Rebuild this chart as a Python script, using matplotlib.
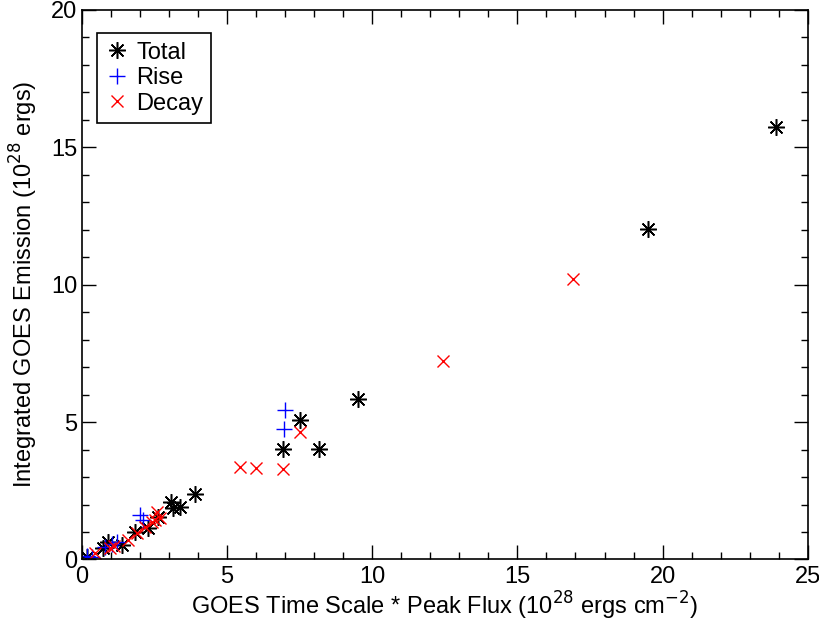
import matplotlib
matplotlib.use("Agg")
import matplotlib.pyplot as plt
from matplotlib.ticker import MultipleLocator
from matplotlib.lines import Line2D

plt.rcParams['font.family'] = ['Liberation Sans', 'DejaVu Sans']

total_x = [23.9, 19.5, 9.5, 7.52, 6.94, 8.15, 3.89, 3.05, 3.37, 3.15, 2.63, 2.28, 1.83, 1.37, 0.91, 0.73, 0.16]
total_y = [15.73, 12.02, 5.85, 5.07, 4.03, 4.03, 2.38, 2.08, 1.9, 1.86, 1.56, 1.13, 1.01, 0.53, 0.65, 0.41, 0.1]

rise_x = [6.99, 6.96, 2.0, 2.11, 1.19, 1.02, 0.79, 0.16, 0.33]
rise_y = [5.45, 4.74, 1.62, 1.44, 0.62, 0.55, 0.45, 0.12, 0.08]

decay_x = [16.9, 12.43, 7.51, 5.46, 5.99, 6.94, 2.57, 2.69, 2.4, 2.17, 1.88, 1.6, 0.96, 0.45, 2.51, 1.1]
decay_y = [10.2, 7.22, 4.65, 3.35, 3.33, 3.28, 1.74, 1.5, 1.37, 1.19, 0.95, 0.71, 0.41, 0.22, 1.44, 0.5]

FS = 17

fig = plt.figure(figsize=(8.2, 6.22), dpi=100)
ax = fig.add_axes([0.1, 0.1005, 0.885, 0.884])

asterisk = (8, 2, 0)
ast_kw = dict(linestyle='none', marker=asterisk, markersize=12, markeredgewidth=1.1, color='black')
rise_kw = dict(linestyle='none', marker='+', markersize=11, markeredgewidth=1.0, color='blue')
dec_kw = dict(linestyle='none', marker='x', markersize=9, markeredgewidth=1.0, color='red')

ax.plot(total_x, total_y, **ast_kw)
ax.plot(rise_x, rise_y, **rise_kw)
ax.plot(decay_x, decay_y, **dec_kw)

ax.set_xlim(0, 25)
ax.set_ylim(0, 20)
ax.xaxis.set_major_locator(MultipleLocator(5))
ax.xaxis.set_minor_locator(MultipleLocator(1))
ax.yaxis.set_major_locator(MultipleLocator(5))
ax.yaxis.set_minor_locator(MultipleLocator(1))
ax.tick_params(which='both', direction='in', top=True, right=True, labelsize=FS, width=1)
ax.tick_params(which='major', length=10)
ax.tick_params(which='minor', length=5)
ax.tick_params(axis='x', pad=5)
for s in ax.spines.values():
    s.set_linewidth(1.2)

ax.set_xlabel('GOES Time Scale * Peak Flux (10$^{28}$ ergs cm$^{-2}$)', fontsize=FS, labelpad=1)
ax.set_ylabel('Integrated GOES Emission (10$^{28}$ ergs)', fontsize=FS, labelpad=8)

handles = [Line2D([], [], **ast_kw), Line2D([], [], **rise_kw), Line2D([], [], **dec_kw)]
leg = ax.legend(handles, ['Total', 'Rise', 'Decay'], loc='upper left', fontsize=FS,
                fancybox=False, framealpha=1, edgecolor='black', handlelength=1.0,
                handletextpad=0.3, borderpad=0.35, labelspacing=0.15,
                borderaxespad=0, bbox_to_anchor=(0.021, 0.957))
leg.get_frame().set_linewidth(1.2)

fig.savefig('out.png', dpi=100)
